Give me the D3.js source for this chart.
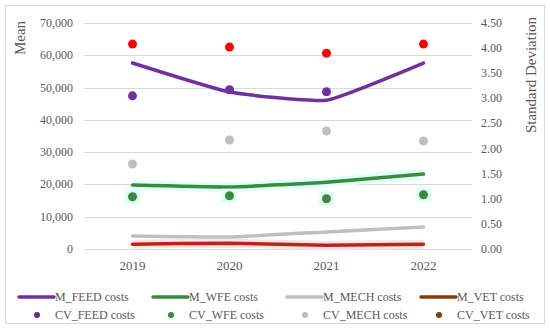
<!DOCTYPE html>
<html lang="en">
<head>
<meta charset="UTF-8">
<title>costs</title>
<script src="https://cdn.jsdelivr.net/npm/d3@7"></script>
<style>
    body{ margin:0; background:#fff; }
    text{ font-family:"Liberation Serif","Times New Roman",serif; fill:#595959; }
</style>
</head>
<body>
<svg id="chart" width="550" height="329"></svg>
<script>
    // data
    let years = ["2019", "2020", "2021", "2022"]
    let m_feed = [57600, 48600, 46100, 57600]
    let m_wfe = [19800, 19200, 20700, 23200]
    let m_mech = [4000, 3700, 5300, 6800]
    let m_vet = [1500, 1800, 1200, 1500]
    let cv_feed = [3.05, 3.17, 3.13, null]   // 2022 point not visible
    let cv_wfe = [1.04, 1.06, 1.00, 1.08]
    let cv_mech = [1.69, 2.17, 2.35, 2.15]
    let cv_vet = [4.08, 4.02, 3.90, 4.08]
    let leftTicks = [0, 10000, 20000, 30000, 40000, 50000, 60000, 70000]
    let rightTicks = [0, 0.5, 1, 1.5, 2, 2.5, 3, 3.5, 4, 4.5]

    let svg = d3.select("#chart")

    // outer border
    svg.append("rect")
        .attr("x", 5.5).attr("y", 5.5)
        .attr("width", 539).attr("height", 318)
        .attr("fill", "none").attr("stroke", "#d9d9d9")

    let x = d3.scaleBand().domain(years).range([84, 472])
    let yL = d3.scaleLinear().domain([0, 70000]).range([249, 23])
    let yR = d3.scaleLinear().domain([0, 4.5]).range([249, 23])
    let cx = d => x(d) + x.bandwidth() / 2

    // gridlines
    svg.append("g").selectAll("line")
        .data(leftTicks).enter().append("line")
        .attr("x1", 84).attr("x2", 472)
        .attr("y1", d => Math.round(yL(d)) + 0.5)
        .attr("y2", d => Math.round(yL(d)) + 0.5)
        .attr("stroke", "#d9d9d9").attr("stroke-width", 1)

    // left axis labels
    svg.append("g").selectAll("text")
        .data(leftTicks).enter().append("text")
        .attr("x", 73).attr("y", d => yL(d) + 4)
        .attr("text-anchor", "end").attr("font-size", 12)
        .text(d => d3.format(",")(d))

    // right axis labels
    svg.append("g").selectAll("text")
        .data(rightTicks).enter().append("text")
        .attr("x", 481).attr("y", d => yR(d) + 4)
        .attr("font-size", 12)
        .text(d => d3.format(".2f")(d))

    // x labels
    svg.append("g").selectAll("text")
        .data(years).enter().append("text")
        .attr("x", d => cx(d)).attr("y", 270)
        .attr("text-anchor", "middle").attr("font-size", 13)
        .text(d => d)

    // axis titles
    svg.append("text")
        .attr("transform", "translate(25,38) rotate(-90)")
        .attr("text-anchor", "middle").attr("font-size", 15)
        .text("Mean")
    svg.append("text")
        .attr("transform", "translate(536,75) rotate(-90)")
        .attr("text-anchor", "middle").attr("font-size", 15)
        .text("Standard Deviation")

    let line = d3.line()
        .x((d, i) => cx(years[i]))
        .y(d => yL(d))
        .curve(d3.curveCardinal.tension(0.6))

    // faint highlight behind some series
    svg.append("path").datum(m_wfe)
        .attr("d", line).attr("fill", "none")
        .attr("stroke", "#e0fff9").attr("stroke-width", 10)
    svg.append("path").datum(m_vet)
        .attr("d", line).attr("fill", "none")
        .attr("stroke", "#ffe0f3").attr("stroke-width", 9)

    let series = [
        {vals: m_vet, color: "#b8280c"},
        {vals: m_mech, color: "#bfbfbf"},
        {vals: m_wfe, color: "#3a8a3f"},
        {vals: m_feed, color: "#7030a0"}
    ]
    series.forEach(function(s){
        svg.append("path").datum(s.vals)
            .attr("d", line).attr("fill", "none")
            .attr("stroke", s.color).attr("stroke-width", 3.5)
            .attr("stroke-linecap", "round")
    })

    // cv dots (right axis)
    let dots = [
        {vals: cv_wfe, color: "#3a8a3f", glow: "#e0fff9"},
        {vals: cv_mech, color: "#bfbfbf"},
        {vals: cv_feed, color: "#7030a0"},
        {vals: cv_vet, color: "#ff0000"}
    ]
    dots.forEach(function(s){
        let pts = s.vals.map((v, i) => ({year: years[i], v: v})).filter(p => p.v !== null)
        if (s.glow) {
            svg.append("g").selectAll("rect")
                .data(pts).enter().append("rect")
                .attr("x", p => cx(p.year) - 8)
                .attr("y", p => yR(p.v) - 7)
                .attr("width", 16).attr("height", 14)
                .attr("fill", s.glow)
        }
        svg.append("g").selectAll("circle")
            .data(pts).enter().append("circle")
            .attr("cx", p => cx(p.year))
            .attr("cy", p => yR(p.v))
            .attr("r", 4.5)
            .attr("fill", s.color)
    })

    // legend
    let legendLines = [
        {name: "M_FEED costs", color: "#7030a0"},
        {name: "M_WFE costs", color: "#3a8a3f"},
        {name: "M_MECH costs", color: "#bfbfbf"},
        {name: "M_VET costs", color: "#843c0c"}
    ]
    let legendDots = [
        {name: "CV_FEED costs", color: "#5b2c9b"},
        {name: "CV_WFE costs", color: "#3a8a3f"},
        {name: "CV_MECH costs", color: "#bfbfbf"},
        {name: "CV_VET costs", color: "#843c0c"}
    ]
    let lx = d3.scaleLinear().domain([0, 1]).range([19, 153])

    let row1 = svg.append("g").selectAll("g")
        .data(legendLines).enter().append("g")
        .attr("transform", (d, i) => "translate(" + lx(i) + ",297)")
    row1.append("line")
        .attr("x1", 0).attr("x2", 35)
        .attr("stroke", d => d.color).attr("stroke-width", 3.5)
        .attr("stroke-linecap", "round")
    row1.append("text")
        .attr("x", 36).attr("y", 4).attr("font-size", 12)
        .text(d => d.name)

    let row2 = svg.append("g").selectAll("g")
        .data(legendDots).enter().append("g")
        .attr("transform", (d, i) => "translate(" + lx(i) + ",315)")
    row2.append("circle")
        .attr("cx", 18).attr("r", 3)
        .attr("fill", d => d.color)
    row2.append("text")
        .attr("x", 36).attr("y", 4).attr("font-size", 12)
        .text(d => d.name)
</script>
</body>
</html>
